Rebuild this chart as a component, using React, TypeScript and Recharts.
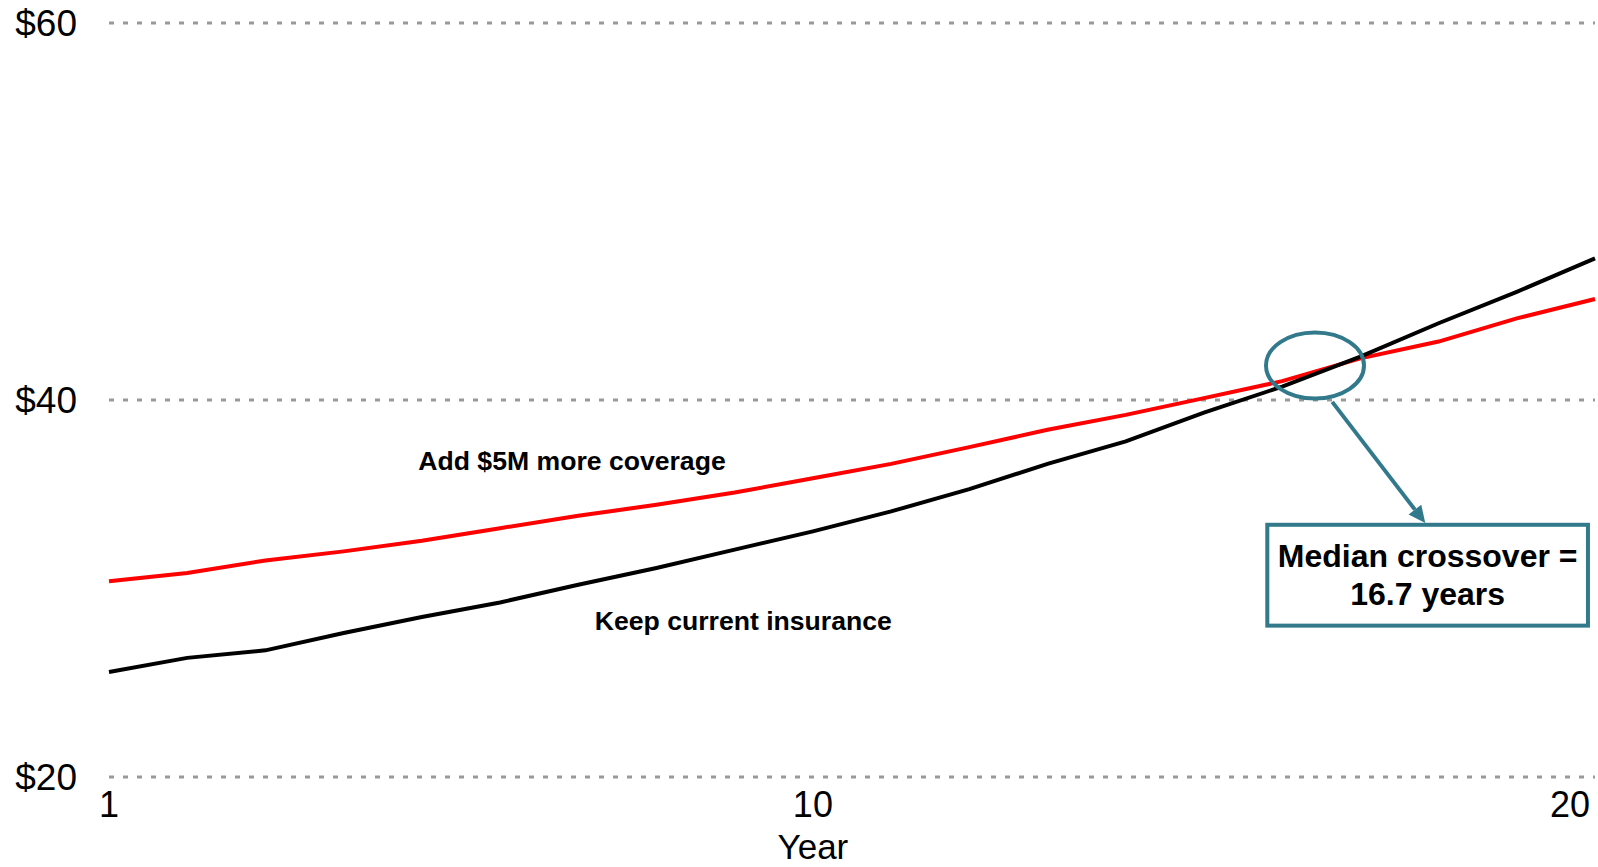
import {
  CartesianGrid,
  Line,
  LineChart,
  ReferenceArea,
  ReferenceDot,
  ReferenceLine,
  XAxis,
  YAxis,
} from "recharts";

const years = [1, 2, 3, 4, 5, 6, 7, 8, 9, 10, 11, 12, 13, 14, 15, 16, 17, 18, 19, 20];
const addCoverage = [
  30.38, 30.82, 31.49, 31.97, 32.53, 33.2, 33.86, 34.44, 35.09, 35.85,
  36.61, 37.5, 38.42, 39.21, 40.1, 41.0, 42.21, 43.1, 44.33, 45.36,
];
const keepCurrent = [
  25.57, 26.32, 26.72, 27.64, 28.49, 29.26, 30.2, 31.09, 32.06, 33.03,
  34.09, 35.27, 36.61, 37.8, 39.33, 40.71, 42.3, 44.07, 45.74, 47.51,
];
const xTicks = [1, 10, 20];
const yTicks = [20, 40, 60];
const crossoverText = ["Median crossover =", "16.7 years"];

const TEAL = "#327A8B";
const FONT = '"Liberation Sans", Arial, sans-serif';

const rows = years.map((year, i) => ({
  year,
  add: addCoverage[i],
  keep: keepCurrent[i],
}));

function XTick({ x, y, payload }: any) {
  const last = payload.value === xTicks[xTicks.length - 1];
  return (
    <text
      x={x}
      y={y + 27}
      textAnchor={last ? "end" : "middle"}
      dominantBaseline="central"
      fontSize={36}
      fontFamily={FONT}
      fill="#000"
    >
      {payload.value}
    </text>
  );
}

function YTick({ x, y, payload }: any) {
  return (
    <text
      x={x - 32}
      y={y}
      textAnchor="end"
      dominantBaseline="central"
      fontSize={37}
      fontFamily={FONT}
      fill="#000"
    >
      ${payload.value}
    </text>
  );
}

function YearLabel({ viewBox }: any) {
  const x = viewBox.x + ((10 - xTicks[0]) / (xTicks[2] - xTicks[0])) * viewBox.width;
  return (
    <text
      x={x}
      y={viewBox.y + 69}
      textAnchor="middle"
      dominantBaseline="central"
      fontSize={35}
      fontFamily={FONT}
      fill="#000"
    >
      Year
    </text>
  );
}

const seriesLabel = (text: string) => (props: any) => (
  <text
    x={props.cx}
    y={props.cy}
    textAnchor="middle"
    dominantBaseline="central"
    fontSize={26.6}
    fontWeight="bold"
    fontFamily={FONT}
    fill="#000"
  >
    {text}
  </text>
);

function Ellipse(props: any) {
  return (
    <ellipse cx={props.cx} cy={props.cy} rx={49} ry={33} fill="none" stroke={TEAL} strokeWidth={4} />
  );
}

function Arrow(props: any) {
  const { x1, y1, x2, y2 } = props;
  const ang = Math.atan2(y2 - y1, x2 - x1);
  const len = 17;
  const half = 8;
  const bx = x2 - len * Math.cos(ang);
  const by = y2 - len * Math.sin(ang);
  const px = -Math.sin(ang) * half;
  const py = Math.cos(ang) * half;
  return (
    <g>
      <line x1={x1} y1={y1} x2={bx} y2={by} stroke={TEAL} strokeWidth={4} />
      <polygon points={`${x2},${y2} ${bx + px},${by + py} ${bx - px},${by - py}`} fill={TEAL} />
    </g>
  );
}

function CrossoverBox(props: any) {
  const { x, y, width, height } = props;
  const cx = x + width / 2;
  return (
    <g>
      <rect x={x} y={y} width={width} height={height} fill="#fff" stroke={TEAL} strokeWidth={4} />
      {crossoverText.map((t, i) => (
        <text
          key={t}
          x={cx}
          y={y + 31 + i * 38}
          textAnchor="middle"
          dominantBaseline="central"
          fontSize={32}
          fontWeight="bold"
          fontFamily={FONT}
          fill="#000"
        >
          {t}
        </text>
      ))}
    </g>
  );
}

export default function App() {
  return (
    <div style={{ position: "absolute", left: 0, top: 0, width: 1598, height: 867, background: "#fff" }}>
      <LineChart width={1598} height={867} data={rows} margin={{ top: 23, right: 3, bottom: 0, left: 0 }}>
        <CartesianGrid vertical={false} stroke="#999999" strokeDasharray="5 9" strokeWidth={3} />
        <XAxis
          dataKey="year"
          type="number"
          domain={[1, 20]}
          ticks={xTicks}
          height={90}
          axisLine={false}
          tickLine={false}
          tickSize={0}
          tickMargin={0}
          tick={<XTick />}
          label={<YearLabel />}
        />
        <YAxis
          type="number"
          domain={[20, 60]}
          ticks={yTicks}
          width={109}
          axisLine={false}
          tickLine={false}
          tickSize={0}
          tickMargin={0}
          tick={<YTick />}
        />
        <Line type="linear" dataKey="add" stroke="#FF0000" strokeWidth={4} dot={false} isAnimationActive={false} />
        <Line type="linear" dataKey="keep" stroke="#000000" strokeWidth={4} dot={false} isAnimationActive={false} />
        <ReferenceDot x={6.92} y={36.74} shape={seriesLabel("Add $5M more coverage")} />
        <ReferenceDot x={9.11} y={28.26} shape={seriesLabel("Keep current insurance")} />
        <ReferenceDot x={16.42} y={41.83} shape={Ellipse} />
        <ReferenceLine segment={[{ x: 16.64, y: 39.9 }, { x: 17.83, y: 33.47 }]} shape={Arrow} />
        <ReferenceArea x1={15.81} x2={19.91} y1={28.03} y2={33.38} shape={CrossoverBox} />
      </LineChart>
    </div>
  );
}
